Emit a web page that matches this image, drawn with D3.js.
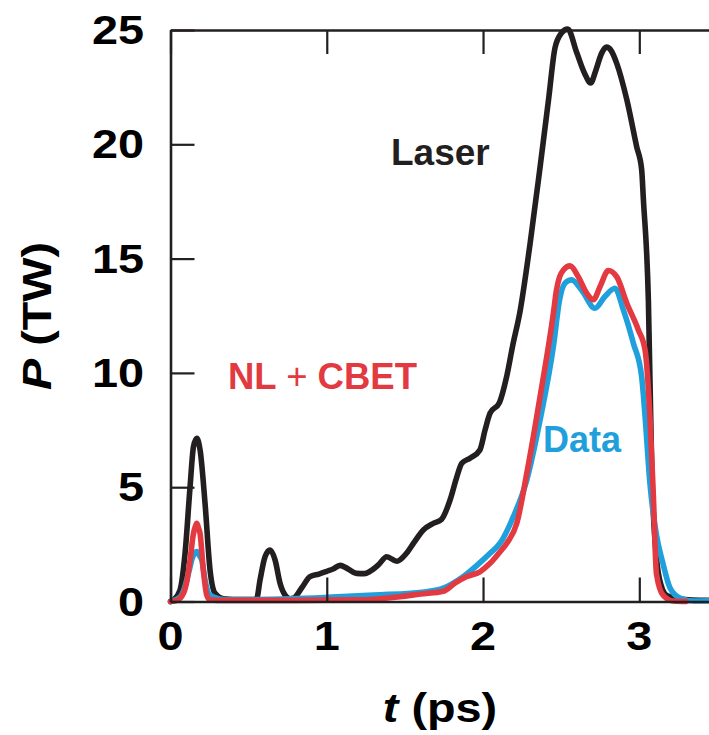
<!DOCTYPE html>
<html>
<head>
<meta charset="utf-8">
<script src="https://cdn.jsdelivr.net/npm/d3@7/dist/d3.min.js"></script>
<style>
  html, body { margin: 0; padding: 0; background: #fff; }
  svg { display: block; }
  text { font-family: "Liberation Sans", Arial, Helvetica, sans-serif; font-weight: bold; }
</style>
</head>
<body>
<svg id="chart" width="709" height="735"></svg>
<script>
// Pulse power P (TW) versus time t (ps)
const laserT = [0, 0.02, 0.061, 0.093, 0.125, 0.147, 0.168, 0.19, 0.221, 0.253, 0.285, 0.34, 0.45, 0.55,
  0.573, 0.605, 0.637, 0.669, 0.701, 0.733, 0.765, 0.786, 0.84, 0.893, 0.95, 1.0, 1.04, 1.085, 1.13, 1.19,
  1.24, 1.277, 1.33, 1.384, 1.448, 1.51, 1.56, 1.618, 1.682, 1.735, 1.789, 1.83, 1.864, 1.917, 1.98, 2.013,
  2.045, 2.105, 2.15, 2.19, 2.237, 2.30, 2.365, 2.42, 2.46, 2.50, 2.542, 2.60, 2.65, 2.689, 2.72, 2.76,
  2.79, 2.82, 2.855, 2.92, 2.983, 3.015, 3.026, 3.058, 3.08, 3.11, 3.14, 3.175, 3.26, 3.446];
const laserP = [0, 0.07, 0.5, 2.1, 5.0, 6.77, 7.14, 6.6, 4.3, 1.38, 0.36, 0.12, 0.08, 0.1,
  0.94, 1.96, 2.25, 1.82, 0.8, 0.28, 0.12, 0.14, 0.6, 1.09, 1.2, 1.32, 1.42, 1.58, 1.45, 1.23,
  1.22, 1.32, 1.6, 1.96, 1.76, 2.11, 2.6, 3.13, 3.42, 3.6, 4.44, 5.4, 6.05, 6.27, 6.63, 7.5,
  8.24, 8.7, 9.8, 11.2, 12.7, 15.6, 19.0, 22.0, 24.2, 24.85, 25.04, 24.0, 23.1, 22.68, 23.2, 24.0,
  24.25, 24.1, 23.55, 21.95, 19.9, 18.9, 17.6, 13.2, 5.7, 1.9, 0.7, 0.27, 0.1, 0.05];

const modelT = [0, 0.04, 0.083, 0.105, 0.125, 0.145, 0.16, 0.168, 0.18, 0.189, 0.21, 0.232, 0.253, 0.3,
  0.8, 1.2, 1.469, 1.6, 1.746, 1.82, 1.896, 1.98, 2.045, 2.1, 2.152, 2.216, 2.28, 2.365, 2.45, 2.47,
  2.49, 2.514, 2.557, 2.61, 2.663, 2.706, 2.749, 2.802, 2.856, 2.92, 2.994, 3.037, 3.068, 3.09, 3.11,
  3.153, 3.22, 3.3];
const modelP = [0, 0.05, 0.36, 0.9, 1.8, 2.9, 3.3, 3.42, 3.2, 2.98, 1.38, 0.28, 0.07, 0.05,
  0.05, 0.07, 0.21, 0.33, 0.45, 0.8, 1.09, 1.3, 1.67, 2.1, 2.55, 3.42, 5.61, 8.96, 12.6, 13.63,
  14.2, 14.5, 14.68, 14.2, 13.49, 13.2, 13.78, 14.48, 14.2, 13.05, 11.88, 11.0, 8.09, 4.6, 1.2,
  0.27, 0.02, 0];

const dataT = [0, 0.061, 0.09, 0.115, 0.14, 0.168, 0.19, 0.2, 0.221, 0.243, 0.275, 0.35, 0.77, 1.0,
  1.3, 1.64, 1.746, 1.874, 2.0, 2.045, 2.109, 2.194, 2.28, 2.365, 2.45, 2.49, 2.525, 2.567, 2.63,
  2.716, 2.78, 2.844, 2.898, 2.962, 3.015, 3.037, 3.068, 3.11, 3.15, 3.196, 3.26, 3.35, 3.446];
const dataP = [0, 0.2, 0.6, 1.23, 1.9, 2.18, 1.95, 1.82, 0.94, 0.36, 0.2, 0.08, 0.12, 0.18,
  0.28, 0.43, 0.58, 1.09, 1.82, 2.11, 2.55, 3.71, 5.32, 7.94, 11.15, 13.2, 13.93, 14.07, 13.63,
  12.83, 13.34, 13.7, 12.76, 11.3, 9.84, 8.09, 5.17, 2.9, 1.7, 0.6, 0.15, 0.02, 0.03];

const xTicks = [0, 1, 2, 3];
const yTicks = [0, 5, 10, 15, 20, 25];

const seriesLabels = [
  { text: "Laser", color: "#231f20" },
  { text: "NL + CBET", color: "#e23a40" },
  { text: "Data", color: "#1fa0dc" }
];

const svg = d3.select("#chart");
const ink = "#231f20";
const red = "#e23a40";
const blue = "#1fa0dc";

const x = d3.scaleLinear().domain([0, 3.446]).range([170.5, 709]);
const y = d3.scaleLinear().domain([0, 25]).range([601.5, 30]);

const zip = (ts, ps) => ts.map((t, i) => ({ t, p: ps[i] }));
const line = d3.line().x(d => x(d.t)).y(d => y(d.p)).curve(d3.curveMonotoneX);

// curves
const curves = svg.append("g").attr("fill", "none")
  .attr("stroke-width", 5.6).attr("stroke-linejoin", "round").attr("stroke-linecap", "round");
curves.append("path").datum(zip(laserT, laserP)).attr("stroke", ink).attr("d", line);
curves.append("path").datum(zip(dataT, dataP)).attr("stroke", blue).attr("d", line);
curves.append("path").datum(zip(modelT, modelP)).attr("stroke", red).attr("d", line);

// frame with inward ticks
const axisStyle = g => {
  g.selectAll("path.domain").attr("stroke", ink).attr("stroke-width", 2.6);
  g.selectAll(".tick line").attr("stroke", ink).attr("stroke-width", 2.2);
  g.selectAll(".tick text").remove();
};
svg.append("g").attr("transform", `translate(0,${y(0)})`)
  .call(d3.axisBottom(x).tickValues(xTicks).tickSizeInner(-24).tickSizeOuter(0)).call(axisStyle);
svg.append("g").attr("transform", `translate(0,${y(25)})`)
  .call(d3.axisTop(x).tickValues(xTicks).tickSizeInner(-24).tickSizeOuter(0)).call(axisStyle);
svg.append("g").attr("transform", `translate(${x(0)},0)`)
  .call(d3.axisLeft(y).tickValues(yTicks).tickSizeInner(-24).tickSizeOuter(0)).call(axisStyle);

// tick labels (wide bold face)
const sx = 1.17;
svg.append("g").selectAll("g").data(yTicks).join("g")
  .attr("transform", d => `translate(144,${y(d) + 14}) scale(${sx},1)`)
  .append("text").attr("text-anchor", "end").attr("font-size", 40).attr("fill", "#000").text(d => d);
svg.append("g").selectAll("g").data(xTicks).join("g")
  .attr("transform", d => `translate(${x(d)},650) scale(${sx},1)`)
  .append("text").attr("text-anchor", "middle").attr("font-size", 40).attr("fill", "#000").text(d => d);

// axis titles
const xt = svg.append("g").attr("transform", `translate(440,722) scale(${sx},1)`)
  .append("text").attr("text-anchor", "middle").attr("font-size", 40).attr("fill", "#000");
xt.append("tspan").attr("font-style", "italic").text("t");
xt.append("tspan").text(" (ps)");

const yt = svg.append("g").attr("transform", `translate(51,316) rotate(-90) scale(${sx},1)`)
  .append("text").attr("text-anchor", "middle").attr("font-size", 40).attr("fill", "#000");
yt.append("tspan").attr("font-style", "italic").text("P");
yt.append("tspan").text(" (TW)");

// series labels
svg.append("text").attr("x", 391).attr("y", 165).attr("font-size", 37)
  .attr("fill", seriesLabels[0].color).text(seriesLabels[0].text);
const nl = svg.append("text").attr("x", 228).attr("y", 389).attr("font-size", 36.5)
  .attr("fill", seriesLabels[1].color);
nl.append("tspan").text("NL ");
nl.append("tspan").attr("font-weight", "normal").text("+");
nl.append("tspan").text(" CBET");
svg.append("text").attr("x", 543).attr("y", 452).attr("font-size", 36)
  .attr("fill", seriesLabels[2].color).text(seriesLabels[2].text);
</script>
</body>
</html>
